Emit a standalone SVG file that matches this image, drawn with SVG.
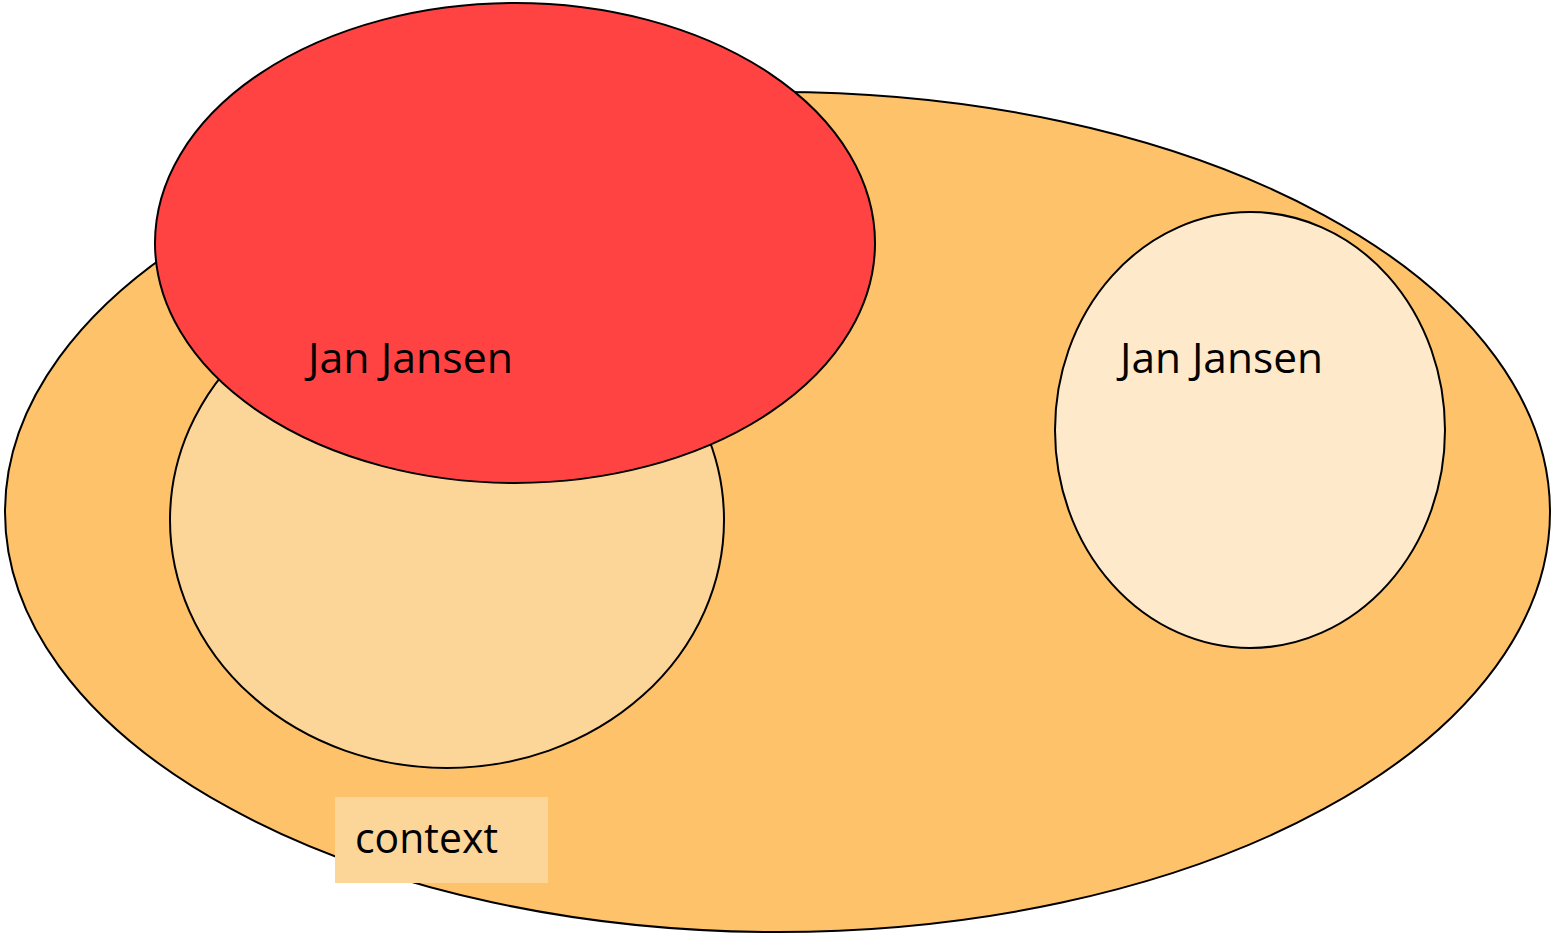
<svg xmlns="http://www.w3.org/2000/svg" width="1551" height="933" viewBox="0 0 1551 933">
<style>
.e{stroke:#000;stroke-width:2}
.t{font-family:"Open Sans","Liberation Sans",sans-serif;font-size:42px;fill:#000}
</style>
<rect width="1551" height="933" fill="#fff"/>
<g id="context-ellipse"><ellipse class="e" cx="777.5" cy="512" rx="772.5" ry="420" fill="#FDC26A"/></g>
<g id="inner-ellipse"><ellipse class="e" cx="447" cy="520" rx="277" ry="248" fill="#FCD599"/></g>
<g id="red-ellipse"><ellipse class="e" cx="515" cy="243" rx="360" ry="240" fill="#FF4343"/>
<text class="t" x="308" y="373" textLength="205" lengthAdjust="spacingAndGlyphs">Jan Jansen</text></g>
<g id="right-ellipse"><ellipse class="e" cx="1250" cy="430" rx="195" ry="218" fill="#FEE9CB"/>
<text class="t" x="1120" y="373" textLength="203" lengthAdjust="spacingAndGlyphs">Jan Jansen</text></g>
<g id="context-label"><rect x="335" y="797" width="213" height="86" fill="#FCD599"/>
<text class="t" x="355" y="853" textLength="143" lengthAdjust="spacingAndGlyphs">context</text></g>
<g id="connectors"/>
</svg>
